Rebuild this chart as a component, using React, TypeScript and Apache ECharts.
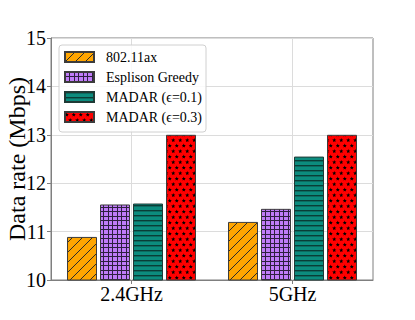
import React, { useEffect, useRef } from "react";
import * as echarts from "echarts";

const categories = ["2.4GHz", "5GHz"];
const seriesNames = ["802.11ax", "Esplison Greedy", "MADAR (ϵ=0.1)", "MADAR (ϵ=0.3)"];
const ax11Values = [10.89, 11.2];
const greedyValues = [11.56, 11.47];
const madar01Values = [11.58, 12.55];
const madar03Values = [13.0, 13.0];
const yTicks = [10, 11, 12, 13, 14, 15];

const FONT = "Liberation Serif";

function makeTile(w: number, h: number, bg: string, draw: (ctx: CanvasRenderingContext2D) => void) {
  const c = document.createElement("canvas");
  c.width = w;
  c.height = h;
  const ctx = c.getContext("2d") as CanvasRenderingContext2D;
  ctx.fillStyle = bg;
  ctx.fillRect(0, 0, w, h);
  draw(ctx);
  return { image: c.toDataURL(), repeat: "repeat", imageWidth: w, imageHeight: h } as any;
}

function star(ctx: CanvasRenderingContext2D, cx: number, cy: number, ro: number, ri: number) {
  ctx.beginPath();
  for (let i = 0; i < 10; i++) {
    const r = i % 2 === 0 ? ro : ri;
    const a = -Math.PI / 2 + (i * Math.PI) / 5;
    const x = cx + r * Math.cos(a);
    const y = cy + r * Math.sin(a);
    if (i === 0) ctx.moveTo(x, y);
    else ctx.lineTo(x, y);
  }
  ctx.closePath();
  ctx.fill();
}

export default function App() {
  const ref = useRef<HTMLDivElement>(null);
  useEffect(() => {
    if (!ref.current) return;
    const chart = echarts.init(ref.current, null, { renderer: "svg" });

    const hatchOrange = makeTile(10, 10, "#FFA500", (ctx) => {
      ctx.strokeStyle = "#2b2b2b";
      ctx.lineWidth = 1;
      ctx.beginPath();
      ctx.moveTo(-2, 12);
      ctx.lineTo(12, -2);
      ctx.moveTo(-7, 7);
      ctx.lineTo(7, -7);
      ctx.moveTo(3, 17);
      ctx.lineTo(17, 3);
      ctx.stroke();
    });
    const gridPurple = makeTile(9, 9, "#C07CF8", (ctx) => {
      ctx.fillStyle = "#2e2040";
      ctx.fillRect(0, 0, 1, 9);
      ctx.fillRect(4, 0, 1, 9);
      ctx.fillRect(0, 0, 9, 1);
      ctx.fillRect(0, 4, 9, 1);
    });
    const linesTeal = makeTile(10, 5, "#0C8C7E", (ctx) => {
      ctx.fillStyle = "#0a3d37";
      ctx.fillRect(0, 0, 10, 1.4);
    });
    const starsRed = makeTile(14, 11, "#FF0000", (ctx) => {
      ctx.fillStyle = "#000000";
      star(ctx, 1.75, 2.75, 2.2, 0.95);
      star(ctx, 8.75, 2.75, 2.2, 0.95);
      star(ctx, 5.25, 8.25, 2.2, 0.95);
      star(ctx, 12.25, 8.25, 2.2, 0.95);
      star(ctx, -1.75, 8.25, 2.2, 0.95);
    });

    const fills = [hatchOrange, gridPurple, linesTeal, starsRed];
    const borders = ["#3c3c3c", "#3c3c3c", "#1f3a36", "#3c3c3c"];
    const values = [ax11Values, greedyValues, madar01Values, madar03Values];

    chart.setOption({
      animation: false,
      grid: {
        left: 51,
        right: 42,
        top: 38,
        bottom: 40,
        containLabel: false,
        outerBoundsMode: "none",
        show: true,
        borderColor: "#7f7f7f",
        borderWidth: 1,
        backgroundColor: "transparent",
      },
      legend: {
        orient: "vertical",
        left: 59,
        top: 45,
        itemWidth: 29,
        itemHeight: 10,
        itemGap: 6,
        padding: [5, 4, 8, 5],
        backgroundColor: "rgba(255,255,255,0.85)",
        borderColor: "#d0d0d0",
        borderWidth: 1,
        borderRadius: 3,
        icon: "rect",
        textStyle: {
          fontFamily: FONT,
          fontSize: 14,
          color: "#000",
          padding: [0, 0, 0, 7],
        },
        data: seriesNames,
      },
      xAxis: [
        {
          type: "category",
          data: categories,
          boundaryGap: true,
          axisLine: { show: true, lineStyle: { color: "#7f7f7f", width: 1 } },
          axisTick: { show: true, alignWithLabel: true, length: 4, lineStyle: { color: "#7f7f7f" } },
          axisLabel: { fontFamily: FONT, fontSize: 20, color: "#000", margin: 4 },
          splitLine: { show: false },
        },
        {
          type: "category",
          data: ["", "", "", "", ""],
          boundaryGap: false,
          position: "bottom",
          axisLine: { show: false },
          axisTick: { show: false },
          axisLabel: { show: false },
          splitLine: {
            show: true,
            interval: (index: number) => index === 1 || index === 3,
            lineStyle: { color: "#dcdcdc", width: 1 },
          },
        },
      ],
      yAxis: {
        type: "value",
        min: yTicks[0],
        max: yTicks[yTicks.length - 1],
        interval: 1,
        name: "Data rate (Mbps)",
        nameLocation: "middle",
        nameGap: 22,
        nameMoveOverlap: false,
        nameTextStyle: { fontFamily: FONT, fontSize: 24, color: "#000" },
        axisLine: { show: true, lineStyle: { color: "#7f7f7f", width: 1 } },
        axisTick: { show: true, length: 4, lineStyle: { color: "#7f7f7f" } },
        axisLabel: { fontFamily: FONT, fontSize: 20, color: "#000", margin: 5 },
        splitLine: { show: true, lineStyle: { color: "#dcdcdc", width: 1 } },
      },
      series: seriesNames.map((name, i) => ({
        name,
        type: "bar",
        xAxisIndex: 0,
        data: values[i],
        barWidth: 30,
        barGap: "10%",
        itemStyle: { color: fills[i], borderColor: borders[i], borderWidth: 1 },
      })),
    });
    return () => chart.dispose();
  }, []);
  return (
    <div
      ref={ref}
      style={{ position: "fixed", left: 0, top: 0, width: 415, height: 320, background: "#fff" }}
    />
  );
}
